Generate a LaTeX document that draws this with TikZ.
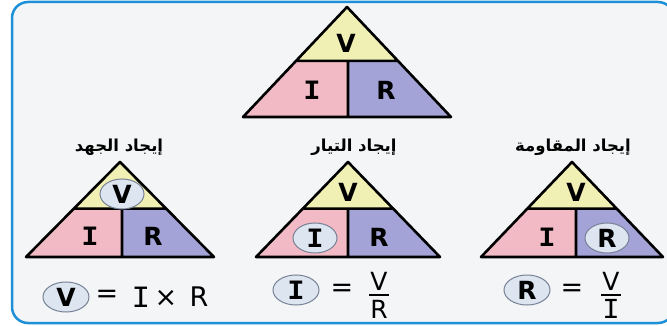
\documentclass[tikz,border=0pt]{standalone}
\usepackage{fontspec}
\setmainfont{Liberation Sans}
\newfontfamily\monof{Liberation Mono}
\newfontfamily\heavy{DejaVu Sans}
\newfontfamily\arabicfont[Script=Arabic]{DejaVu Sans}
\TeXXeTstate=1
\usetikzlibrary{calc,shapes.geometric}
\definecolor{frameblue}{RGB}{30,144,215}
\definecolor{bgray}{RGB}{243,245,246}
\definecolor{yel}{RGB}{241,240,180}
\definecolor{pnk}{RGB}{241,186,196}
\definecolor{pur}{RGB}{163,163,216}
\definecolor{circfill}{RGB}{220,229,240}
\definecolor{circline}{RGB}{120,130,150}
\tikzset{
  tri/.style={line width=2.6pt, line join=round},
  big/.style={font=\heavy\bfseries\fontsize{25}{25}\selectfont, inner sep=0pt},
  bigI/.style={font=\monof\bfseries\fontsize{28}{28}\selectfont, inner sep=0pt},
  ring/.style={ellipse, draw=circline, fill=circfill, line width=1pt, minimum width=44pt, minimum height=30pt, inner sep=0pt, font=\heavy\bfseries\fontsize{25}{25}\selectfont},
  ringI/.style={ring, font=\monof\bfseries\fontsize{28}{28}\selectfont},
  eqtext/.style={font=\heavy\fontsize{27}{27}\selectfont, inner sep=0pt},
  eqI/.style={font=\monof\fontsize{31}{31}\selectfont, inner sep=0pt},
  frac/.style={font=\heavy\fontsize{25}{25}\selectfont, inner sep=0pt},
  lbl/.style={font=\arabicfont\bfseries\fontsize{16.5}{16.5}\selectfont, inner sep=0pt},
}
\newcommand\ohmtri[5]{%
  \coordinate (A) at (#1,#2);
  \coordinate (L) at ({#1-#3},{#2+#4});
  \coordinate (R) at ({#1+#3},{#2+#4});
  \coordinate (ML) at ($(A)!0.49!(L)$);
  \coordinate (MR) at ($(A)!0.49!(R)$);
  \coordinate (MT) at ({#5},{#2+0.49*#4});
  \coordinate (MB) at ({#5},{#2+#4});
  \fill[yel] (A)--(ML)--(MR)--cycle;
  \fill[pnk] (ML)--(MT)--(MB)--(L)--cycle;
  \fill[pur] (MT)--(MR)--(R)--(MB)--cycle;
  \draw[tri] (A)--(L)--(R)--cycle (ML)--(MR) (MT)--(MB);
}
\begin{document}
\begin{tikzpicture}[x=1pt,y=-1pt]
\useasboundingbox (0,0) rectangle (667,326);
\clip (0,0) rectangle (667,326);
\fill[white] (0,0) rectangle (667,326);
\draw[frameblue, line width=2.5pt, fill=bgray, rounded corners=16pt] (12,2) rectangle (674,323);

% main triangle
\ohmtri{347}{7}{104}{110}{348}
\node[big] (mV) at (346,43) {V};
\node[bigI] (mI) at (312,90) {I};
\node[big] (mR) at (386,90) {R};

% triangle 1
\node[lbl] (l1) at (119,147) {\beginR إيجاد الجهد\endR};
\ohmtri{120}{162}{94}{95}{122}
\node[ring] (t1V) at (122,194) {V};
\node[bigI] (t1I) at (90,236) {I};
\node[big] (t1R) at (153,236) {R};

% triangle 2
\node[lbl] (l2) at (354,147) {\beginR إيجاد التيار\endR};
\ohmtri{348}{162}{92}{95}{348}
\node[big] (t2V) at (348,192) {V};
\node[ringI] (t2I) at (315,238) {I};
\node[big] (t2R) at (379,237) {R};

% triangle 3
\node[lbl] (l3) at (573,147) {\beginR إيجاد المقاومة\endR};
\ohmtri{572}{162}{91}{95}{576}
\node[big] (t3V) at (576,192) {V};
\node[bigI] (t3I) at (547,237) {I};
\node[ring] (t3R) at (607,238) {R};

% formula 1
\node[ring, minimum width=46pt] (f1c) at (66,297) {V};
\node[eqtext] (f1eq) at (107,296) {=};
\node[eqI] (f1I) at (141,297) {I};
\node[eqtext] (f1x) at (166,298) {×};
\node[eqtext] (f1R) at (199,297) {R};

% formula 2
\node[ringI, minimum width=46pt] (f2c) at (296,290) {I};
\node[eqtext] (f2eq) at (342,290) {=};
\node[frac] (f2V) at (379,281) {V};
\node[frac] (f2R) at (379,309) {R};
\draw[line width=1.3pt] (369,295) -- (389,295);

% formula 3
\node[ring, minimum width=46pt] (f3c) at (527,290) {R};
\node[eqtext] (f3eq) at (572,290) {=};
\node[frac] (f3V) at (611,281) {V};
\node[eqI, font=\monof\fontsize{29}{29}\selectfont] (f3I) at (611,309) {I};
\draw[line width=1.3pt] (601,295) -- (621,295);
\end{tikzpicture}
\end{document}
